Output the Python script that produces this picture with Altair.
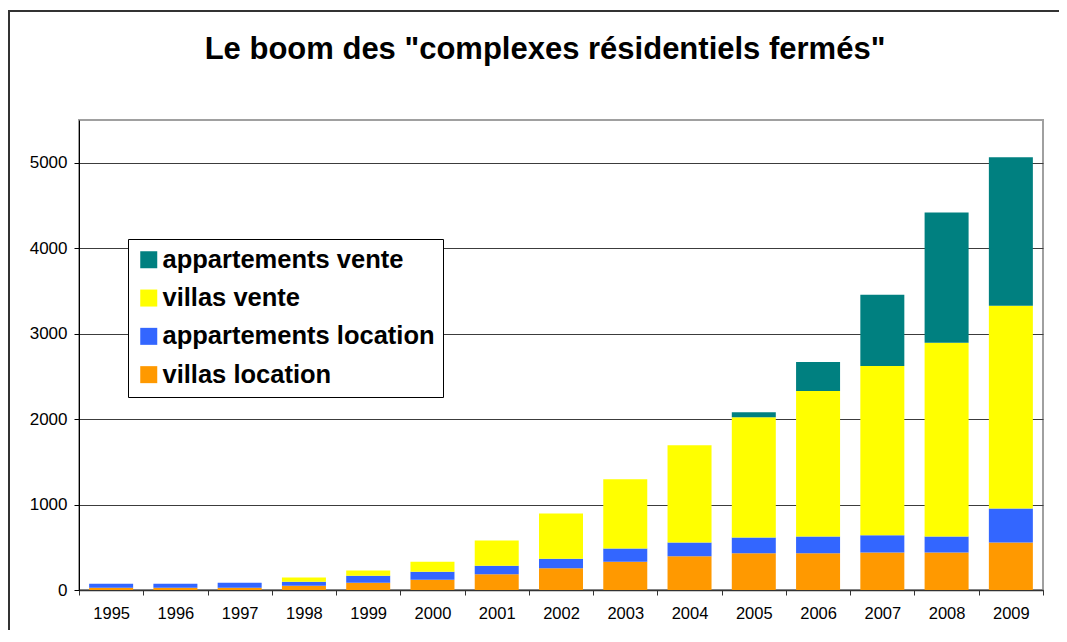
import altair as alt
import pandas as pd

years = [str(y) for y in range(1995, 2010)]
villas_location = [27, 27, 27, 51, 86, 121, 183, 254, 332, 395, 430, 430, 438, 438, 555]
appartements_location = [47, 47, 59, 47, 82, 94, 102, 113, 153, 160, 184, 196, 203, 188, 400]
villas_vente = [0, 0, 0, 47, 59, 117, 294, 528, 810, 1139, 1408, 1702, 1981, 2266, 2371]
appartements_vente = [0, 0, 0, 0, 0, 0, 0, 0, 0, 0, 59, 340, 833, 1526, 1737]

series_names = ["appartements vente", "villas vente", "appartements location", "villas location"]
series_colors = ["#008080", "#FFFF00", "#3366FF", "#FF9900"]
stack_pos = {"villas location": 0, "appartements location": 1, "villas vente": 2, "appartements vente": 3}
series_values = {
    "villas location": villas_location,
    "appartements location": appartements_location,
    "villas vente": villas_vente,
    "appartements vente": appartements_vente,
}
title_text = 'Le boom des "complexes résidentiels fermés"'

rows = []
for name, vals in series_values.items():
    for y, v in zip(years, vals):
        rows.append({"year": y, "serie": name, "value": v, "ord": stack_pos[name]})
df = pd.DataFrame(rows)

FONT = "Liberation Sans"

bars = alt.Chart(df).mark_bar(size=44).encode(
    x=alt.X("year:O", title=None,
            scale=alt.Scale(paddingInner=0, paddingOuter=0),
            axis=alt.Axis(labelAngle=0, tickBand="extent", tickSize=5, labelFontSize=16.5,
                          labelPadding=10, labelFont=FONT, labelColor="black",
                          domainColor="#333333", domainWidth=1.5, tickColor="#333333",
                          grid=False)),
    y=alt.Y("value:Q", title=None, stack="zero",
            scale=alt.Scale(domain=[0, 5500], nice=False),
            axis=alt.Axis(values=[0, 1000, 2000, 3000, 4000, 5000], format="d", grid=True,
                          gridColor="#3c3c3c", gridWidth=1, tickSize=5, labelPadding=7,
                          labelFontSize=17, labelFont=FONT, labelColor="black",
                          domainColor="black", tickColor="black")),
    color=alt.Color("serie:N", scale=alt.Scale(domain=series_names, range=series_colors),
                    legend=alt.Legend(orient="none", legendX=49, legendY=119, title=None,
                                      symbolType="square", symbolSize=289,
                                      symbolStrokeWidth=0, labelFontSize=25.5,
                                      labelFontWeight="bold", labelFont=FONT,
                                      labelColor="black", strokeColor="black",
                                      fillColor="white", padding=8, rowPadding=11.3,
                                      labelOffset=1, labelLimit=400)),
    order=alt.Order("ord:Q", sort="ascending"),
)

frame = alt.Chart(alt.Data(values=[{}])).mark_rect(
    fill=None, stroke="#333333", strokeWidth=2
).encode(
    x=alt.value(-70), x2=alt.value(1000), y=alt.value(-109), y2=alt.value(600)
)

title = alt.Chart(alt.Data(values=[{}])).mark_text(
    font=FONT, fontSize=31, fontWeight="bold", color="black",
    align="center", baseline="alphabetic"
).encode(
    x=alt.value(466), y=alt.value(-61), text=alt.value(title_text)
)

chart = alt.layer(bars, frame, title).properties(
    width=964, height=470,
    autosize=alt.AutoSizeParams(type="none"),
    padding={"left": 71, "top": 112, "right": 16, "bottom": 40},
).configure_view(stroke="#a0a0a0", strokeWidth=2)

chart.save("out.html", embed_options={"renderer": "svg", "actions": False})
